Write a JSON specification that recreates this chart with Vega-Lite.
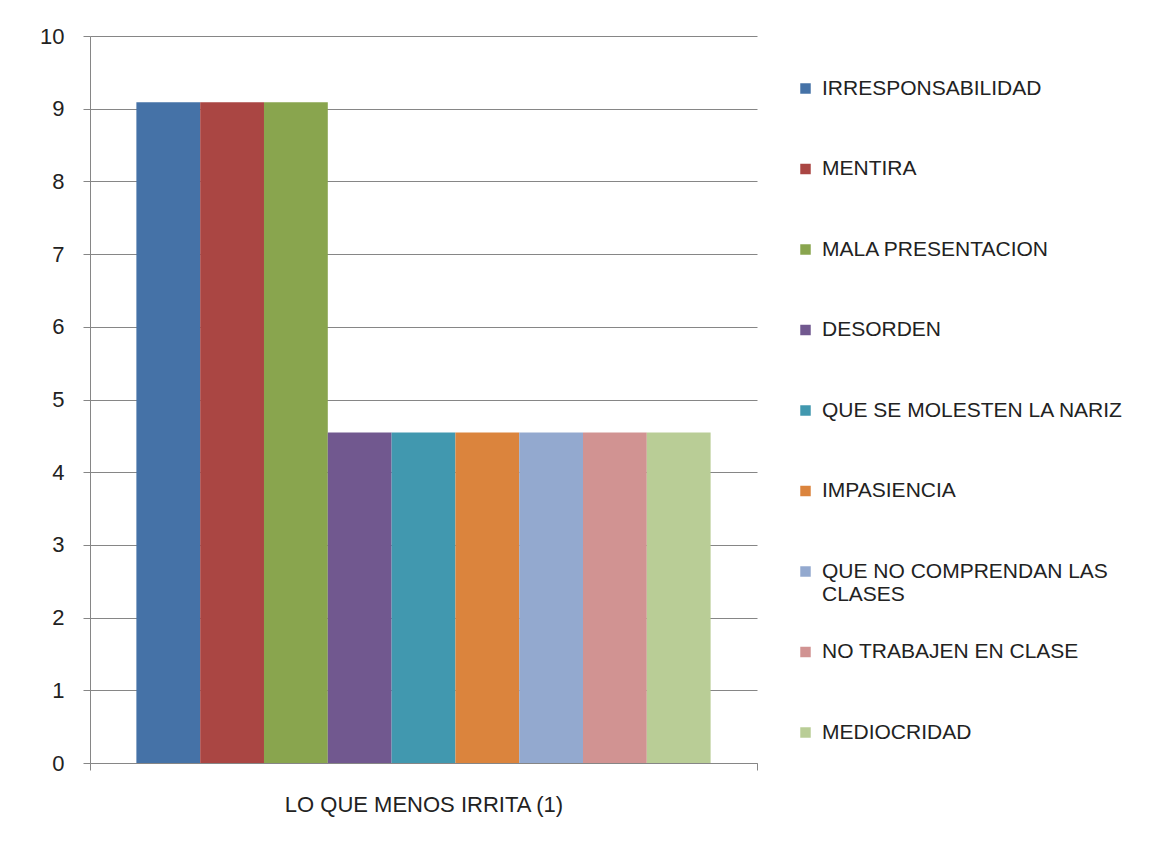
{
  "$schema": "https://vega.github.io/schema/vega-lite/v6.json",
  "width": 667,
  "height": 727,
  "autosize": {"type": "none"},
  "padding": {"left": 90, "top": 36, "right": 403, "bottom": 83},
  "background": "#ffffff",
  "data": {
    "values": [
      {"grupo": "LO QUE MENOS IRRITA (1)", "item": "IRRESPONSABILIDAD", "valor": 9.09},
      {"grupo": "LO QUE MENOS IRRITA (1)", "item": "MENTIRA", "valor": 9.09},
      {"grupo": "LO QUE MENOS IRRITA (1)", "item": "MALA PRESENTACION", "valor": 9.09},
      {"grupo": "LO QUE MENOS IRRITA (1)", "item": "DESORDEN", "valor": 4.545},
      {"grupo": "LO QUE MENOS IRRITA (1)", "item": "QUE SE MOLESTEN LA NARIZ", "valor": 4.545},
      {"grupo": "LO QUE MENOS IRRITA (1)", "item": "IMPASIENCIA", "valor": 4.545},
      {"grupo": "LO QUE MENOS IRRITA (1)", "item": "QUE NO COMPRENDAN LAS CLASES", "valor": 4.545},
      {"grupo": "LO QUE MENOS IRRITA (1)", "item": "NO TRABAJEN EN CLASE", "valor": 4.545},
      {"grupo": "LO QUE MENOS IRRITA (1)", "item": "MEDIOCRIDAD", "valor": 4.545}
    ]
  },
  "mark": {"type": "bar"},
  "encoding": {
    "x": {
      "field": "grupo",
      "type": "nominal",
      "scale": {"paddingInner": 0, "paddingOuter": 0},
      "axis": {
        "title": null,
        "labelAngle": 0,
        "labelFont": "Liberation Sans",
        "labelFontSize": 22,
        "labelColor": "#222222",
        "labelPadding": 24,
        "labelLimit": 600,
        "domainColor": "#868686",
        "tickColor": "#868686",
        "tickSize": 7,
        "tickBand": "extent",
        "grid": false
      }
    },
    "xOffset": {
      "field": "item",
      "type": "nominal",
      "sort": null,
      "scale": {"paddingInner": 0, "paddingOuter": 0.727}
    },
    "y": {
      "field": "valor",
      "type": "quantitative",
      "scale": {"domain": [0, 10], "nice": false},
      "axis": {
        "title": null,
        "values": [0, 1, 2, 3, 4, 5, 6, 7, 8, 9, 10],
        "labelFont": "Liberation Sans",
        "labelFontSize": 22,
        "labelColor": "#222222",
        "labelPadding": 19,
        "domainColor": "#868686",
        "tickColor": "#868686",
        "tickSize": 7,
        "gridColor": "#868686",
        "gridWidth": 1
      }
    },
    "color": {
      "field": "item",
      "type": "nominal",
      "sort": null,
      "scale": {
        "domain": ["IRRESPONSABILIDAD", "MENTIRA", "MALA PRESENTACION", "DESORDEN", "QUE SE MOLESTEN LA NARIZ", "IMPASIENCIA", "QUE NO COMPRENDAN LAS CLASES", "NO TRABAJEN EN CLASE", "MEDIOCRIDAD"],
        "range": ["#4572A7", "#AA4643", "#89A54E", "#71588F", "#4198AF", "#DB843D", "#93A9CF", "#D19392", "#B9CD96"]
      },
      "legend": {
        "title": null,
        "orient": "none",
        "legendX": 705,
        "legendY": 42,
        "padding": 0,
        "symbolType": "square",
        "symbolSize": 110,
        "symbolStrokeWidth": 0,
        "symbolOpacity": 1,
        "labelFont": "Liberation Sans",
        "labelFontSize": 21,
        "labelColor": "#222222",
        "labelOffset": 6,
        "labelLimit": 400,
        "rowPadding": 35.5,
        "labelExpr": "datum.label == 'QUE NO COMPRENDAN LAS CLASES' ? ['QUE NO COMPRENDAN LAS', 'CLASES'] : [datum.label, ' ']"
      }
    }
  },
  "config": {
    "view": {"stroke": null}
  }
}
